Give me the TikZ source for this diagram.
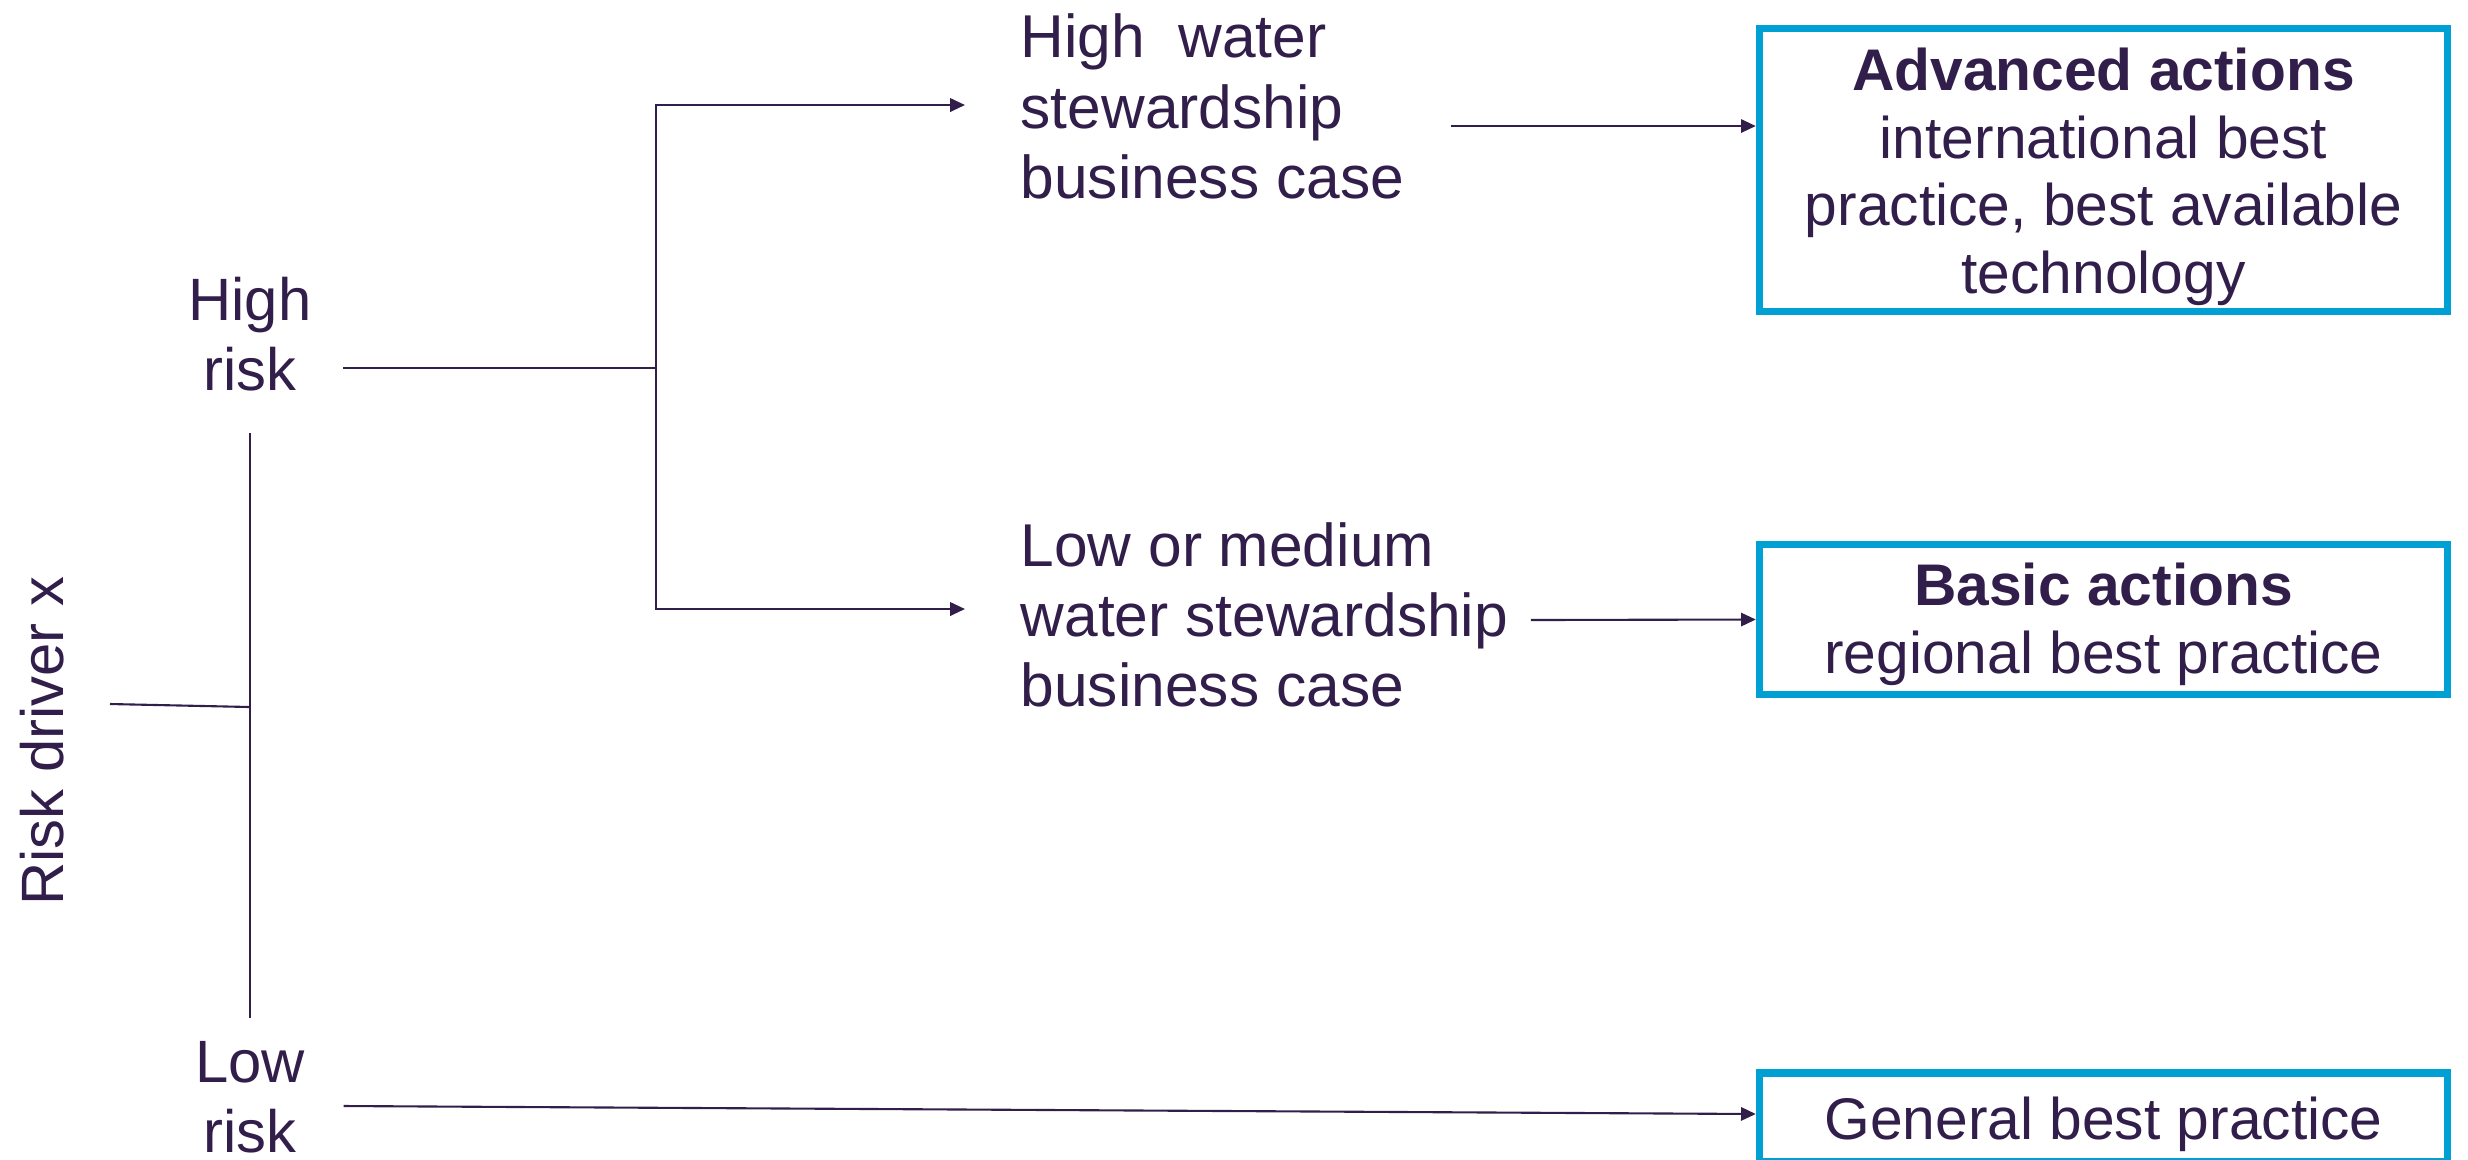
\documentclass[tikz,border=0pt]{standalone}
\usepackage{fontspec}
\setmainfont{Liberation Sans}
\usetikzlibrary{arrows.meta,calc}
\definecolor{ink}{HTML}{321E4A}
\definecolor{sky}{HTML}{009FD4}
\begin{document}
\begin{tikzpicture}[x=0.01cm,y=-0.01cm,
  lbl/.style={font=\fontsize{17}{20}\selectfont, text=ink, inner sep=0pt},
  midlbl/.style={lbl, font=\fontsize{17.2}{20}\selectfont, align=left, anchor=west},
  boxed/.style={draw=sky, line width=2pt, font=\fontsize{16.7}{19.3}\selectfont, text=ink,
                align=center, minimum width=6.88cm, inner sep=0pt},
  conn/.style={draw=ink, line width=0.6pt},
  arr/.style={conn, -{Triangle[length=4.2pt,width=3.8pt]}}]
\useasboundingbox (0,0) rectangle (2468,1159);
\clip (0,0) rectangle (2468,1159);

% left labels
\node[lbl, rotate=90] (rd) at (42,741) {Risk driver x};
\node[lbl, align=center] (high) at (250,334) {High\\risk};
\node[lbl, align=center] (low) at (250,1097) {Low\\risk};

% middle labels
\node[midlbl] (l1) at (1020,106.5) {High\ \ water\\stewardship\\business case};
\node[midlbl] (l2) at (1020,615) {Low or medium\\water stewardship\\business case};

% boxes
\node[boxed, minimum height=2.83cm] (box1) at (2103.5,170)
  {\rule{0pt}{16pt}\textbf{Advanced actions}\\international best\\practice, best available\\technology};
\node[boxed, minimum height=1.50cm] (box2) at (2103.5,619.5)
  {\rule{0pt}{14.6pt}\textbf{Basic actions}\\regional best practice};
\node[boxed, minimum height=0.88cm] (box3) at (2103.5,1117)
  {\rule{0pt}{16pt}General best practice};

% risk driver tree
\coordinate (vj) at (250,707);
\draw[conn] ($(high.center)+(0,99)$) -- ($(low.center)+(0,-79)$);
\draw[conn] ($(rd.center)+(68,-37)$) -- (vj);

% high risk branch
\coordinate (hb) at (656,368);
\draw[conn] ($(high.east)+(31,34)$) -- (hb);
\draw[arr] (hb) |- ($(l1.west)+(-55,-1.5)$);
\draw[arr] (hb) |- ($(l2.west)+(-55,-6)$);

% to boxes
\draw[arr] ($(l1.east)+(46,19.5)$) coordinate (s1) -- (s1 -| box1.west);
\draw[arr] ($(l2.east)+(22,5)$) -- (box2.west);
\draw[arr] ($(low.east)+(38,9)$) -- ($(box3.west)+(0,-3)$);
\end{tikzpicture}
\end{document}
